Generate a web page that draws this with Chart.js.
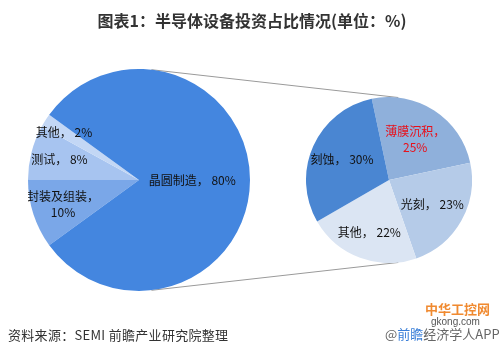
<!DOCTYPE html>
<html>
<head>
<meta charset="utf-8">
<script src="https://cdn.jsdelivr.net/npm/chart.js@4/dist/chart.umd.min.js"></script>
<style>
  html, body { margin: 0; padding: 0; background: #fff; }
  #wrap { position: relative; width: 504px; height: 356px; overflow: hidden; background: #fff;
          font-family: "Noto Sans CJK SC", "Noto Sans", sans-serif; }
  #title { position: absolute; left: 0; top: 8px; width: 504px; text-align: center;
           font-size: 16px; font-weight: bold; color: #333; line-height: 24px; }
  #src { position: absolute; left: 8px; top: 326px; font-size: 13px; color: #333; line-height: 18px; letter-spacing: 0.3px; }
  #wm1 { position: absolute; left: 425px; top: 301px; font-size: 13px; font-weight: bold; color: #f08a30; line-height: 16px; }
  #wm2 { position: absolute; left: 431px; top: 316px; font-size: 10px; color: #555; line-height: 12px; font-family: "Liberation Sans", sans-serif; }
  #wm3 { position: absolute; left: 385px; top: 326px; font-size: 13px; color: #666; line-height: 16px; }
  #wm3 b { font-weight: normal; color: #3a7fd8; }
  canvas { position: absolute; }
</style>
</head>
<body>
<div id="wrap">
  <canvas id="lines" width="504" height="356" style="left:0;top:0;"></canvas>
  <canvas id="left" width="222" height="222" style="left:28px;top:69px;"></canvas>
  <canvas id="right" width="166" height="166" style="left:306px;top:97px;"></canvas>
  <div id="title">图表1：半导体设备投资占比情况(单位：%)</div>
  <div id="src">资料来源：SEMI 前瞻产业研究院整理</div>
  <div id="wm1">中华工控网</div>
  <div id="wm2">gkong.com</div>
  <div id="wm3">@<b>前瞻</b>经济学人APP</div>
</div>
<script>
// ---- data ----
const leftCategories = ['封装及组装', '测试', '其他', '晶圆制造'];
const leftValues = [10, 8, 2, 80];
const rightCategories = ['薄膜沉积', '光刻', '其他', '刻蚀'];
const rightValues = [25, 23, 22, 30];

// ---- styles ----
const leftColors = ['#7aa7e8', '#a7c4f0', '#c3d7f5', '#4486df'];
const rightColors = ['#8fb0db', '#b5cbe8', '#dbe5f3', '#4a86d2'];
const leftLabelRadius = [0.72, 0.74, 0.8, 0.48];
const rightLabelRadius = [0.58, 0.6, 0.68, 0.62];
const leftWrap = [true, false, false, false];
const rightWrap = [true, false, false, false];
const leftLabelColors = ['#111', '#111', '#111', '#111'];
const rightLabelColors = ['#e8101a', '#111', '#111', '#111'];

function labelPlugin(radii, wraps, colors) {
  return {
    id: 'sliceLabels',
    afterDatasetsDraw(chart) {
      const ctx = chart.ctx;
      const meta = chart.getDatasetMeta(0);
      const ds = chart.data.datasets[0];
      ctx.save();
      ctx.font = '12px "Noto Sans CJK SC", sans-serif';
      ctx.textAlign = 'center';
      ctx.textBaseline = 'middle';
      meta.data.forEach((arc, i) => {
        const p = arc.getProps(['x', 'y', 'startAngle', 'endAngle', 'outerRadius'], true);
        const mid = (p.startAngle + p.endAngle) / 2;
        const r = p.outerRadius * radii[i];
        const x = p.x + Math.cos(mid) * r;
        const y = p.y + Math.sin(mid) * r;
        const name = chart.data.labels[i] + '，';
        const val = ds.data[i] + '%';
        ctx.fillStyle = colors[i];
        if (wraps[i]) {
          ctx.fillText(name, x, y - 8);
          ctx.fillText(val, x, y + 8);
        } else {
          ctx.fillText(name + ' ' + val, x, y);
        }
      });
      ctx.restore();
    }
  };
}

function makePie(id, cats, vals, colors, rotation, radii, wraps, lcolors) {
  return new Chart(document.getElementById(id), {
    type: 'pie',
    data: { labels: cats, datasets: [{ data: vals, backgroundColor: colors, borderWidth: 0, borderColor: colors }] },
    options: {
      responsive: false, animation: false, rotation: rotation,
      layout: { padding: 0 },
      plugins: { legend: { display: false }, tooltip: { enabled: false }, title: { display: false } }
    },
    plugins: [labelPlugin(radii, wraps, lcolors)]
  });
}

const leftChart = makePie('left', leftCategories, leftValues, leftColors, 234, leftLabelRadius, leftWrap, leftLabelColors);
const rightChart = makePie('right', rightCategories, rightValues, rightColors, -12, rightLabelRadius, rightWrap, rightLabelColors);

// connector lines: external tangents between the two pies
function circleOf(chart) {
  const arc = chart.getDatasetMeta(0).data[0];
  const c = chart.canvas;
  return { x: arc.x + c.offsetLeft, y: arc.y + c.offsetTop, r: arc.outerRadius };
}
const A = circleOf(leftChart), B = circleOf(rightChart);
const lc = document.getElementById('lines').getContext('2d');
const dx = B.x - A.x, dy = B.y - A.y, d = Math.hypot(dx, dy);
const ux = dx / d, uy = dy / d;
const k = (A.r - B.r) / d, h = Math.sqrt(1 - k * k);
lc.strokeStyle = '#9a9a9a';
lc.lineWidth = 1;
[1, -1].forEach(s => {
  const nx = ux * k - s * h * uy;
  const ny = uy * k + s * h * ux;
  lc.beginPath();
  lc.moveTo(A.x + A.r * nx, A.y + A.r * ny);
  lc.lineTo(B.x + B.r * nx, B.y + B.r * ny);
  lc.stroke();
});
</script>
</body>
</html>
